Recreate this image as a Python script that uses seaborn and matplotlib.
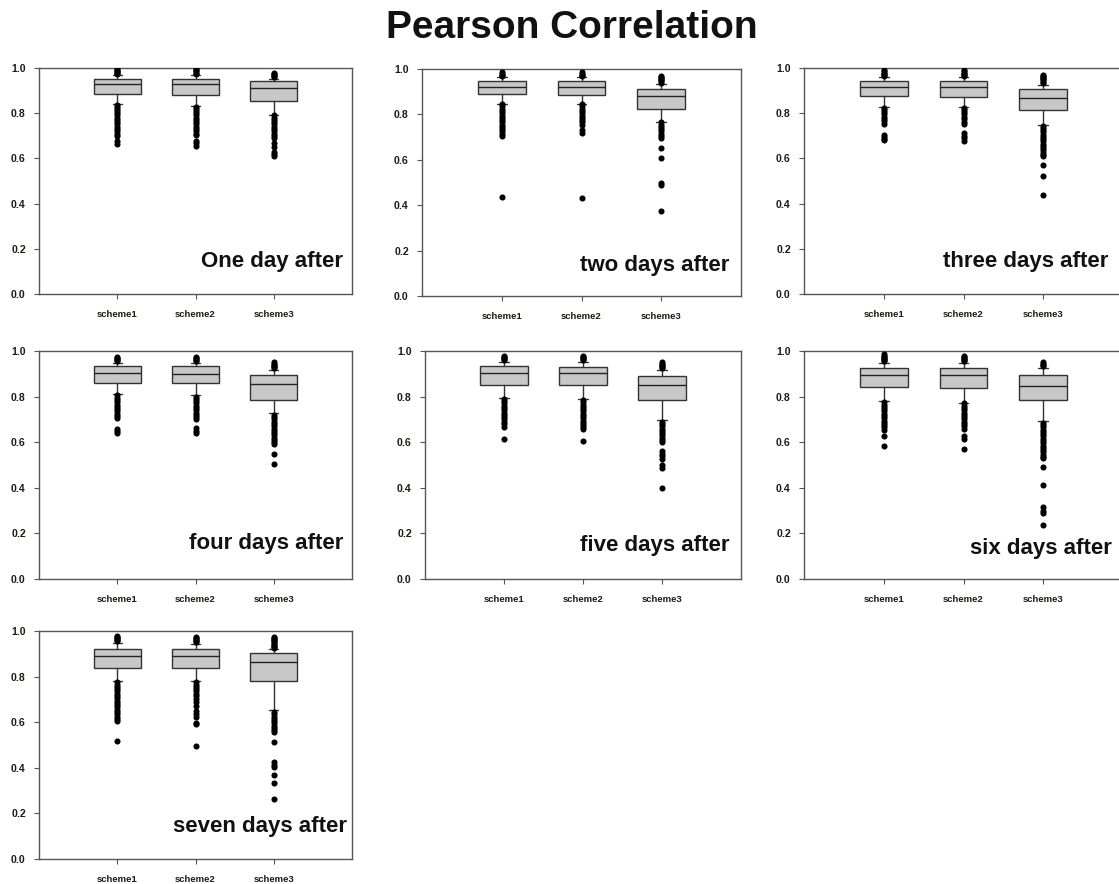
import numpy as np
import pandas as pd
import matplotlib
matplotlib.use("Agg")
import matplotlib.pyplot as plt
import seaborn as sns

# ---------------- data ----------------
schemes = ["scheme1", "scheme2", "scheme3"]
panel_labels = ["One day after", "two days after", "three days after",
                "four days after", "five days after", "six days after",
                "seven days after"]

# per panel, per scheme
box_q1 = [[0.883, 0.880, 0.853], [0.890, 0.884, 0.823], [0.876, 0.872, 0.816],
          [0.858, 0.858, 0.783], [0.850, 0.850, 0.784], [0.843, 0.838, 0.786],
          [0.836, 0.836, 0.782]]
box_med = [[0.929, 0.929, 0.910], [0.922, 0.922, 0.881], [0.917, 0.914, 0.869],
           [0.902, 0.899, 0.854], [0.902, 0.902, 0.853], [0.896, 0.896, 0.846],
           [0.890, 0.890, 0.862]]
box_q3 = [[0.953, 0.953, 0.944], [0.946, 0.946, 0.912], [0.941, 0.941, 0.906],
          [0.934, 0.934, 0.893], [0.935, 0.932, 0.891], [0.927, 0.927, 0.894],
          [0.921, 0.921, 0.902]]
whisker_low = [[0.841, 0.833, 0.794], [0.847, 0.847, 0.767], [0.827, 0.827, 0.749],
               [0.811, 0.807, 0.726], [0.793, 0.791, 0.699], [0.780, 0.772, 0.692],
               [0.780, 0.780, 0.653]]
whisker_high = [[0.968, 0.970, 0.953], [0.963, 0.963, 0.934], [0.959, 0.959, 0.926],
                [0.949, 0.949, 0.917], [0.953, 0.953, 0.916], [0.946, 0.946, 0.927],
                [0.946, 0.943, 0.921]]

outliers = [
    # one day after
    [[0.972, 0.978, 0.983, 0.988, 0.993, 0.997,
      0.835, 0.828, 0.82, 0.81, 0.80, 0.79, 0.78, 0.77, 0.76, 0.75, 0.74, 0.73, 0.72, 0.71, 0.70, 0.675, 0.665],
     [0.975, 0.98, 0.985, 0.99, 0.995,
      0.828, 0.82, 0.81, 0.80, 0.79, 0.78, 0.77, 0.76, 0.75, 0.74, 0.73, 0.72, 0.71, 0.705, 0.675, 0.668, 0.653],
     [0.96, 0.965, 0.97, 0.975, 0.98,
      0.79, 0.78, 0.77, 0.76, 0.75, 0.74, 0.73, 0.72, 0.71, 0.70, 0.69, 0.67, 0.65, 0.63, 0.62, 0.609]],
    # two days after
    [[0.97, 0.975, 0.98, 0.985,
      0.845, 0.835, 0.825, 0.815, 0.805, 0.795, 0.785, 0.775, 0.765, 0.755, 0.745, 0.735, 0.725, 0.715, 0.705, 0.437],
     [0.97, 0.975, 0.98, 0.985,
      0.845, 0.835, 0.825, 0.815, 0.805, 0.795, 0.785, 0.775, 0.765, 0.755, 0.73, 0.72, 0.43],
     [0.94, 0.945, 0.95, 0.955, 0.96, 0.965, 0.97,
      0.765, 0.755, 0.745, 0.735, 0.725, 0.715, 0.705, 0.695, 0.652, 0.61, 0.499, 0.489, 0.374]],
    # three days after
    [[0.965, 0.97, 0.975, 0.98, 0.985, 0.99,
      0.825, 0.815, 0.805, 0.795, 0.785, 0.775, 0.765, 0.75, 0.705, 0.695, 0.688, 0.683],
     [0.965, 0.97, 0.975, 0.98, 0.985, 0.99,
      0.825, 0.815, 0.805, 0.795, 0.785, 0.775, 0.76, 0.75, 0.711, 0.70, 0.69, 0.678],
     [0.935, 0.94, 0.945, 0.95, 0.955, 0.96, 0.965, 0.97,
      0.745, 0.735, 0.725, 0.715, 0.705, 0.695, 0.685, 0.675, 0.665, 0.655, 0.645, 0.635, 0.625, 0.615,
      0.609, 0.572, 0.521, 0.437]],
    # four days after
    [[0.955, 0.96, 0.965, 0.97, 0.975,
      0.805, 0.795, 0.785, 0.775, 0.765, 0.755, 0.745, 0.735, 0.725, 0.715, 0.705, 0.66, 0.65, 0.641],
     [0.955, 0.96, 0.965, 0.97, 0.975,
      0.80, 0.79, 0.78, 0.77, 0.76, 0.75, 0.74, 0.73, 0.72, 0.71, 0.70, 0.663, 0.65, 0.641],
     [0.925, 0.93, 0.935, 0.94, 0.945, 0.95,
      0.72, 0.71, 0.70, 0.69, 0.68, 0.67, 0.66, 0.65, 0.64, 0.63, 0.62, 0.61, 0.60, 0.594, 0.55, 0.504]],
    # five days after
    [[0.96, 0.965, 0.97, 0.975, 0.98,
      0.79, 0.78, 0.77, 0.76, 0.75, 0.74, 0.73, 0.72, 0.71, 0.70, 0.69, 0.68, 0.665, 0.614],
     [0.96, 0.965, 0.97, 0.975, 0.98,
      0.785, 0.775, 0.765, 0.755, 0.745, 0.735, 0.725, 0.715, 0.705, 0.695, 0.685, 0.675, 0.665, 0.658, 0.604],
     [0.925, 0.93, 0.935, 0.94, 0.945, 0.95,
      0.69, 0.68, 0.67, 0.66, 0.65, 0.64, 0.63, 0.62, 0.61, 0.602, 0.562, 0.55, 0.54, 0.525, 0.50, 0.488, 0.401]],
    # six days after
    [[0.955, 0.96, 0.965, 0.97, 0.975, 0.98, 0.985,
      0.775, 0.765, 0.755, 0.745, 0.735, 0.725, 0.715, 0.705, 0.695, 0.685, 0.675, 0.665, 0.655, 0.626, 0.582],
     [0.955, 0.96, 0.965, 0.97, 0.975, 0.98,
      0.77, 0.76, 0.75, 0.74, 0.73, 0.72, 0.71, 0.70, 0.69, 0.68, 0.67, 0.66, 0.626, 0.615, 0.571],
     [0.935, 0.94, 0.945, 0.95,
      0.685, 0.675, 0.665, 0.655, 0.645, 0.635, 0.625, 0.615, 0.605, 0.595, 0.585, 0.575, 0.565, 0.555,
      0.545, 0.535, 0.53, 0.493, 0.411, 0.317, 0.297, 0.288, 0.238]],
    # seven days after
    [[0.955, 0.96, 0.965, 0.97, 0.975, 0.98,
      0.775, 0.765, 0.755, 0.745, 0.735, 0.725, 0.715, 0.705, 0.695, 0.685, 0.675, 0.665, 0.655, 0.645,
      0.635, 0.625, 0.615, 0.605, 0.517],
     [0.95, 0.955, 0.96, 0.965, 0.97, 0.975,
      0.775, 0.765, 0.755, 0.745, 0.735, 0.725, 0.715, 0.70, 0.69, 0.67, 0.65, 0.635, 0.625, 0.595, 0.59, 0.496],
     [0.925, 0.93, 0.935, 0.94, 0.945, 0.95, 0.955, 0.96, 0.965, 0.97, 0.975,
      0.645, 0.635, 0.625, 0.615, 0.605, 0.595, 0.585, 0.575, 0.565, 0.555, 0.514, 0.426, 0.411, 0.405,
      0.367, 0.335, 0.265]],
]

y_ticks = [0.0, 0.2, 0.4, 0.6, 0.8, 1.0]

# ---------------- style / layout ----------------
sns.set_style("white")
plt.rcParams["font.family"] = ["Liberation Sans", "DejaVu Sans"]
plt.rcParams["font.weight"] = "bold"

W, H = 1119, 884
fig = plt.figure(figsize=(W / 100, H / 100), dpi=100)

# axes boxes in pixels: left, top, right, bottom
ax_px = [(39, 68, 352, 294), (422, 69, 741, 296), (804, 68, 1123, 294),
         (39, 351, 352, 579), (425, 351, 741, 579), (804, 351, 1123, 579),
         (39, 631, 352, 859)]
label_x = [0.972, 0.962, 0.955, 0.972, 0.965, 0.966, 0.985]
label_y = [0.145, 0.135, 0.142, 0.155, 0.148, 0.134, 0.141]

spine_col = "#555555"
edge_col = "#333333"

for i, (l, t, r, b) in enumerate(ax_px):
    ax = fig.add_axes([l / W, 1 - b / H, (r - l) / W, (b - t) / H])

    # outliers via seaborn
    rows = []
    for j, s in enumerate(schemes):
        for v in outliers[i][j]:
            rows.append((s, v))
    df = pd.DataFrame(rows, columns=["scheme", "value"])
    sns.stripplot(data=df, x="scheme", y="value", order=schemes, jitter=False,
                  color="black", size=4.4, linewidth=0, ax=ax, zorder=3)

    stats = []
    for j, s in enumerate(schemes):
        stats.append(dict(q1=box_q1[i][j], med=box_med[i][j], q3=box_q3[i][j],
                          whislo=whisker_low[i][j], whishi=whisker_high[i][j],
                          fliers=[], label=s))
    ax.bxp(stats, positions=[0, 1, 2], widths=0.6, capwidths=0.12,
           patch_artist=True, showfliers=False, manage_ticks=False,
           boxprops=dict(facecolor="#c8c8c8", edgecolor=edge_col, linewidth=1.0),
           medianprops=dict(color="#222222", linewidth=1.0),
           whiskerprops=dict(color=edge_col, linewidth=1.0),
           capprops=dict(color=edge_col, linewidth=1.0))

    ax.set_xlim(-1, 3)
    ax.set_ylim(0, 1.0)
    ax.set_yticks(y_ticks)
    ax.set_yticklabels([f"{v:.1f}" for v in y_ticks], fontsize=7.6, fontweight="bold", color="#1f1a14")
    ax.set_xticks([0, 1, 2])
    ax.set_xticklabels(schemes, fontsize=6.8, fontweight="bold", color="#1f1a14")
    ax.set_xlabel("")
    ax.set_ylabel("")
    ax.tick_params(axis="both", direction="out", length=3.5, width=0.8, color=spine_col,
                   bottom=True, left=True)
    ax.tick_params(axis="y", pad=6)
    ax.tick_params(axis="x", pad=8)
    for sp in ax.spines.values():
        sp.set_visible(True)
        sp.set_color(spine_col)
        sp.set_linewidth(1.0)

    ax.text(label_x[i], label_y[i], panel_labels[i], transform=ax.transAxes,
            ha="right", va="center", fontsize=16, fontweight="bold", color="#111111")

fig.text(572 / W, 1 - 28 / H, "Pearson Correlation", ha="center", va="center",
         fontsize=28, fontweight="bold", color="#111111")

fig.savefig("out.png", dpi=100, facecolor="white")
